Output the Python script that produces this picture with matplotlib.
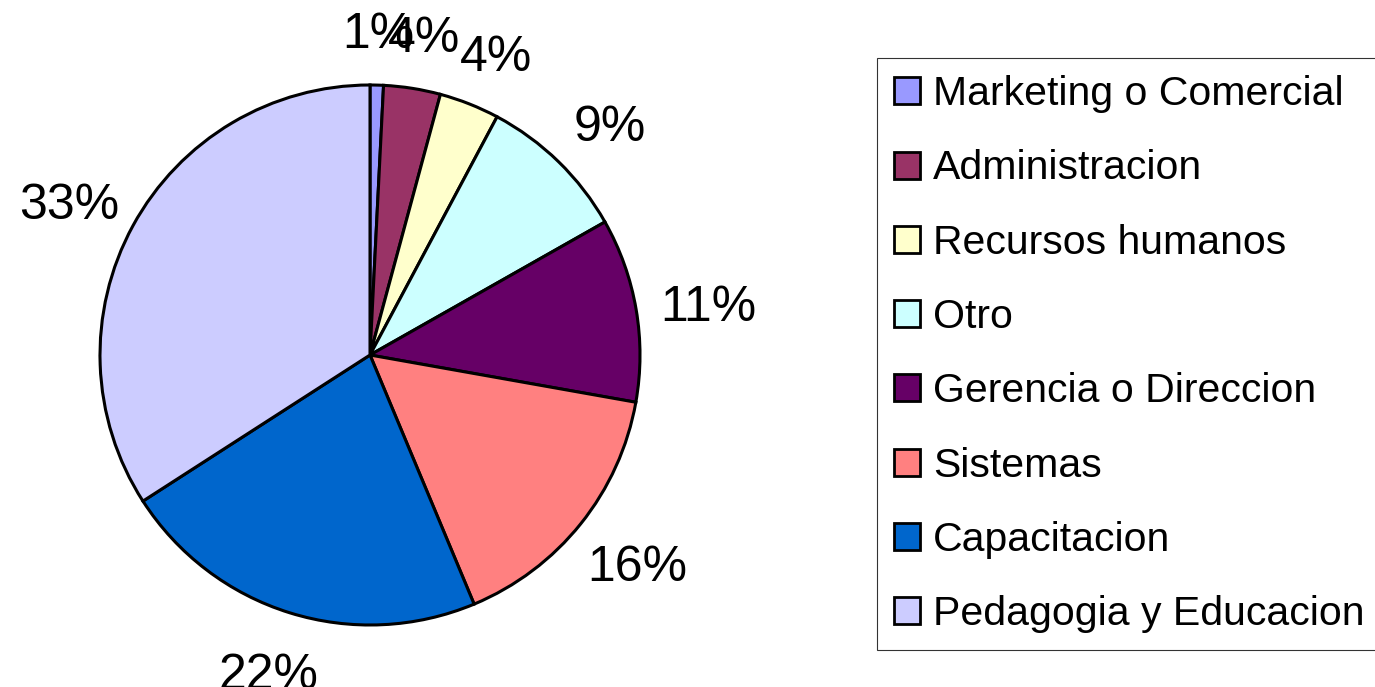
import matplotlib
matplotlib.use("Agg")
import numpy as np
import matplotlib.pyplot as plt
from matplotlib.transforms import offset_copy

categories = ["Marketing o Comercial", "Administracion", "Recursos humanos", "Otro",
              "Gerencia o Direccion", "Sistemas", "Capacitacion", "Pedagogia y Educacion"]
values = [0.8, 3.4, 3.6, 9.0, 11.0, 15.9, 22.2, 34.1]
pct_labels = ["1%", "4%", "4%", "9%", "11%", "16%", "22%", "33%"]
colors = ["#9999FF", "#993366", "#FFFFCC", "#CCFFFF", "#660066", "#FF8080", "#0066CC", "#CCCCFF"]

plt.rcParams['font.family'] = ['Liberation Sans', 'DejaVu Sans']

W, H = 1375, 687
fig = plt.figure(figsize=(W / 100, H / 100), dpi=100)
cx, cy, r = 370, 355, 270
ax = fig.add_axes([(cx - r) / W, (H - cy - r) / H, 2 * r / W, 2 * r / H])

wedges, texts = ax.pie(values, colors=colors, startangle=90, counterclock=False,
                       labels=pct_labels, labeldistance=1.22,
                       wedgeprops=dict(edgecolor="black", linewidth=2.2),
                       textprops=dict(fontsize=36, color="black"))
# labels sit a bit farther out horizontally than vertically (wider than tall)
rx, ry = 1.27, 1.215
shifted = offset_copy(ax.transData, fig=fig, x=0, y=-3, units="dots")
for w, t in zip(wedges, texts):
    mid = np.deg2rad((w.theta1 + w.theta2) / 2)
    t.set_position((rx * np.cos(mid), ry * np.sin(mid)))
    t.set_ha("center")
    t.set_va("center_baseline")
    t.set_transform(shifted)
ax.set_xlim(-1, 1)
ax.set_ylim(-1, 1)
ax.set_aspect("equal")
ax.axis("off")

leg = fig.legend(wedges, categories, loc="upper left",
                 bbox_to_anchor=(877 / W, 1 - 58 / H), bbox_transform=fig.transFigure,
                 borderaxespad=0, fontsize=29.5, frameon=True, fancybox=False,
                 edgecolor="black", handlelength=0.634, handleheight=0.634,
                 handletextpad=0.317, labelspacing=0.885, borderpad=0.42)
leg.get_frame().set_linewidth(0.8)
for h in leg.legend_handles:
    h.set_linewidth(2.0)

fig.savefig("out.png", dpi=100)
